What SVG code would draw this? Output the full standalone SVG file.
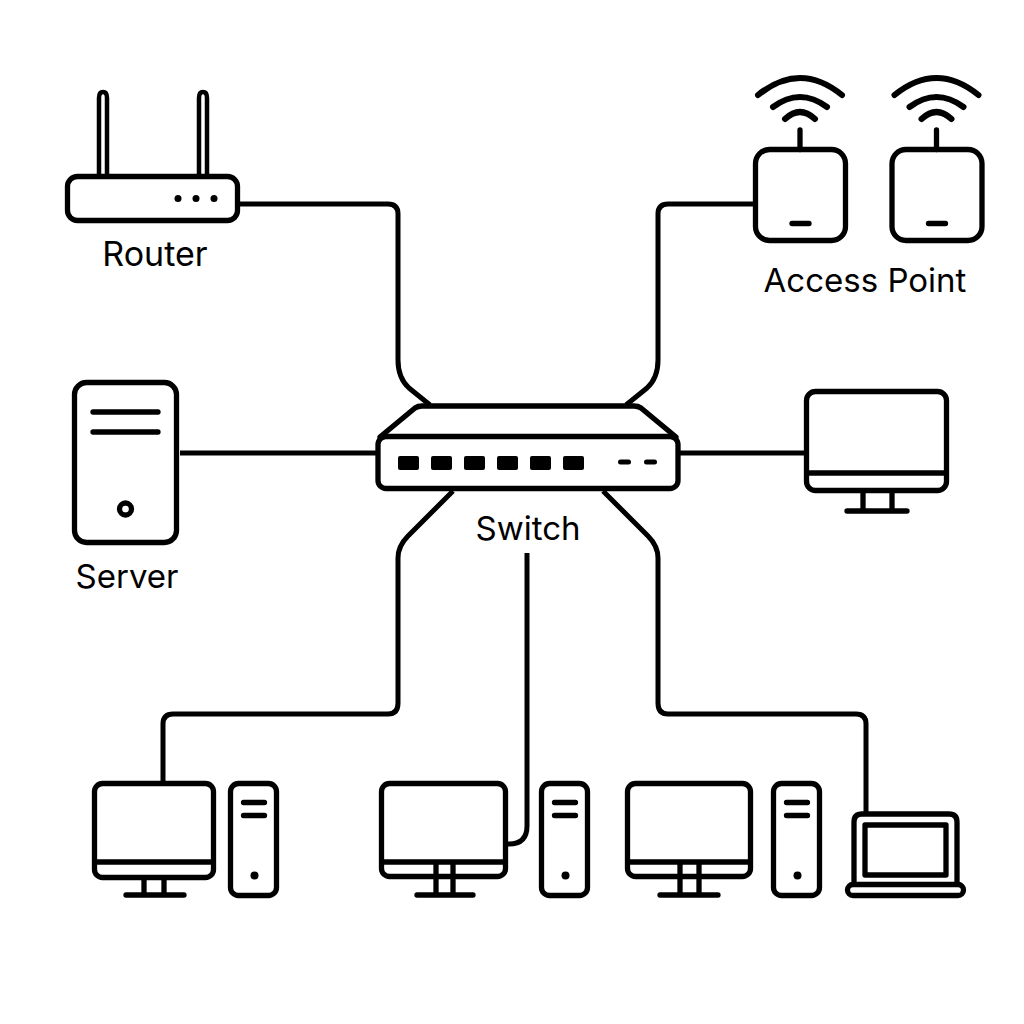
<svg xmlns="http://www.w3.org/2000/svg" width="1024" height="1024" viewBox="0 0 1024 1024">
<style>
.s{fill:none;stroke:#000;stroke-width:5.300;stroke-linecap:round;stroke-linejoin:round}
.c{fill:none;stroke:#000;stroke-width:5;stroke-linecap:butt;stroke-linejoin:round}
.t{stroke-width:4.500}
.w{stroke-width:6}
.f{fill:#000}
text{font-family:Inter,"Liberation Sans",sans-serif;font-size:33px;font-weight:400;fill:#000;text-anchor:middle}
</style>
<defs>
<g id="wifi"><path class="s w" d="M-42 -54.500Q0 -88.500 42 -54.500M-27 -42.500Q0 -62.500 27 -42.500M-15 -30.500Q0 -44.500 15 -30.500"/><path class="s" d="M0 -19.500V0"/><rect class="s" x="-44.500" y="0" width="90" height="91" rx="14"/><path class="s" d="M-8 74H9"/></g>
<g id="tower"><rect class="s" x="0" y="0" width="46" height="112" rx="8"/><path class="s" d="M13 19H34M13 32H34"/><circle class="f" cx="24" cy="92" r="4"/></g>
</defs>
<rect width="1024" height="1024" fill="#fff"/>
<g id="connectors">
<path class="c" d="M240 204H388Q398 204 398 214V360Q398 378 409 388L430 405"/>
<path class="c" d="M753 204H668Q658 204 658 214V360Q658 378 647 388L626 405"/>
<path class="c" d="M180 453H376"/>
<path class="c" d="M680 453H806"/>
<path class="c" d="M453 491L408 536Q398 546 398 558V703Q398 714 388 714H173Q163 714 163 724V782"/>
<path class="c" d="M603 491L648 536Q658 546 658 558V703Q658 714 668 714H856Q866 714 866 724V813"/>
<path class="c" d="M527 553V826Q527 844 509 844H507" stroke-linecap="round"/>
</g>
<g id="router">
<path class="s t" d="M99 175V98Q99 92 103 92Q107 92 107 98V175M199 175V98Q199 92 203 92Q207 92 207 98V175"/>
<rect class="s" x="67.500" y="176.500" width="170" height="44" rx="10"/>
<circle class="f" cx="178" cy="198.500" r="3.500"/><circle class="f" cx="196" cy="198.500" r="3.500"/><circle class="f" cx="214" cy="198.500" r="3.500"/>
<text x="155" y="266" style="font-size:34px">Router</text>
</g>
<g id="ap1"><use href="#wifi" x="800" y="149.500"/></g>
<g id="ap2"><use href="#wifi" x="936.500" y="149.500"/></g>
<text id="ap-label" x="865" y="292">Access Point</text>
<g id="server">
<rect class="s" x="74.500" y="382.500" width="102" height="160" rx="12"/>
<path class="s" d="M93 412H158M93 432H158"/>
<circle class="s" cx="125.500" cy="509" r="6"/>
<text x="127" y="588">Server</text>
</g>
<g id="switch">
<path class="s" d="M380 437L415 408Q418 406 422 406H634Q638 406 641 408L676 437"/>
<rect class="s" x="378" y="436.500" width="300" height="52" rx="8"/>
<rect class="f" x="398" y="456" width="21" height="14" rx="2"/><rect class="f" x="431" y="456" width="21" height="14" rx="2"/><rect class="f" x="464" y="456" width="21" height="14" rx="2"/><rect class="f" x="497" y="456" width="21" height="14" rx="2"/><rect class="f" x="530" y="456" width="21" height="14" rx="2"/><rect class="f" x="563" y="456" width="21" height="14" rx="2"/>
<rect class="f" x="618" y="459.500" width="13" height="5" rx="2.500"/><rect class="f" x="644" y="459.500" width="13" height="5" rx="2.500"/>
<text x="528" y="540">Switch</text>
</g>
<g id="monitor-right">
<rect class="s" x="806.500" y="391.500" width="140" height="99" rx="9"/>
<path class="s" d="M807 473H946M863 491V511M892 491V511M847 511H907"/>
</g>
<g id="pc1">
<rect class="s" x="94.500" y="783.500" width="119" height="94" rx="8"/>
<path class="s" d="M95 862H213M144 878V895M164 878V895M126 895H184"/>
<use href="#tower" x="230.500" y="783.500"/>
</g>
<g id="pc2">
<rect class="s" x="381.500" y="783.500" width="124" height="93" rx="8"/>
<path class="s" d="M382 862H505M436 862V895M453 862V895M417 895H473"/>
<use href="#tower" x="541.500" y="783.500"/>
</g>
<g id="pc3">
<rect class="s" x="627.500" y="783.500" width="123" height="93" rx="8"/>
<path class="s" d="M628 862H750M680 862V895M699 862V895M660 895H718"/>
<use href="#tower" x="773.500" y="783.500"/>
</g>
<g id="laptop">
<path class="s" d="M854 883V822Q854 814 862 814H949Q957 814 957 822V883"/>
<rect class="s" x="865" y="825" width="81" height="50"/>
<rect class="s" x="847.500" y="884.500" width="116" height="11" rx="5.500"/>
</g>
</svg>
